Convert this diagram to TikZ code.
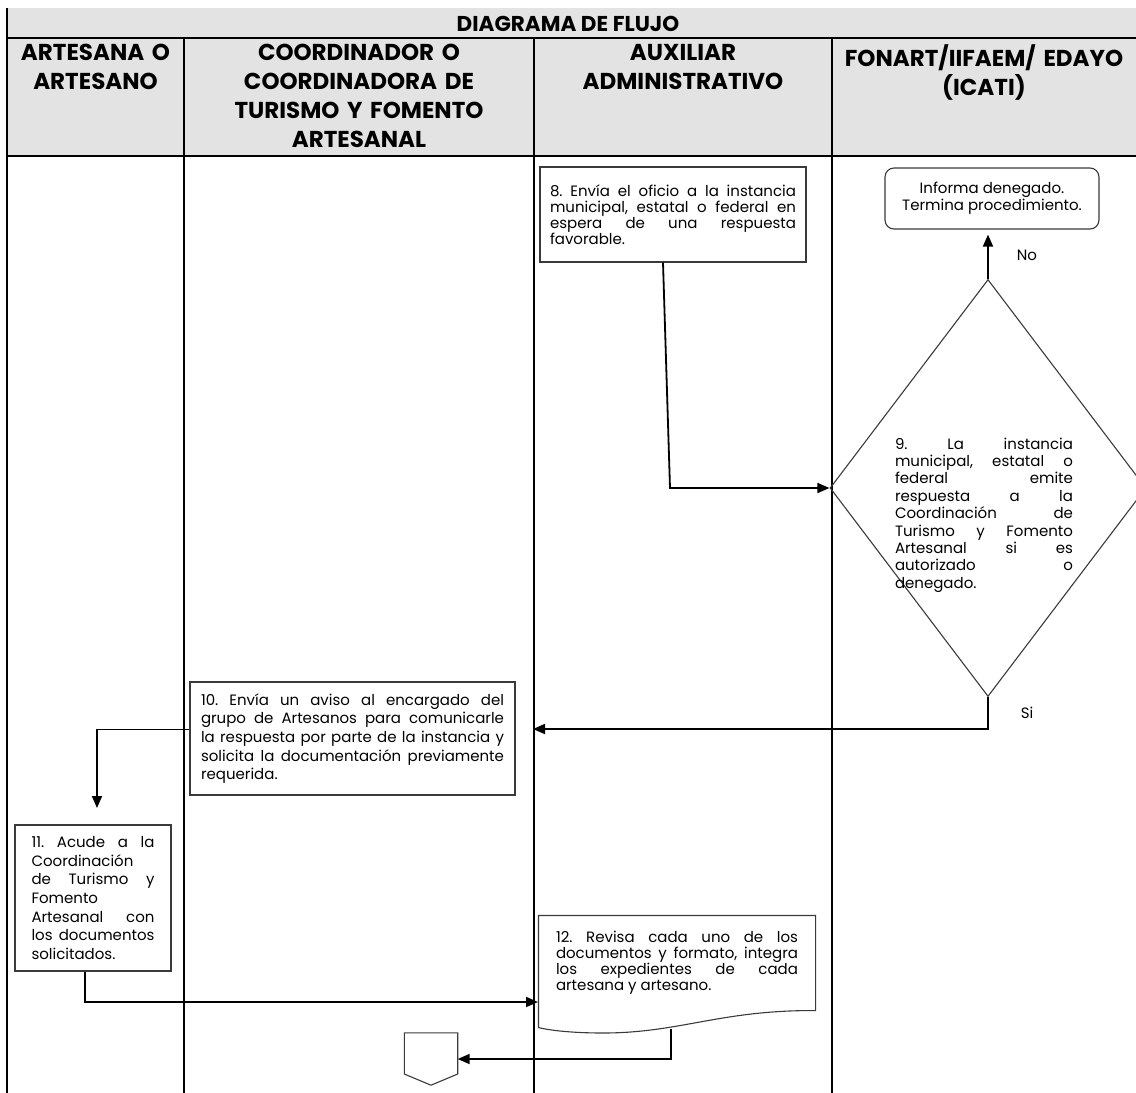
\documentclass[tikz,border=0pt]{standalone}
\usepackage{fontspec}
\setmainfont{Poppins}
\usetikzlibrary{arrows.meta, shapes.geometric, calc, positioning}
\definecolor{hdrGrey}{HTML}{E3E3E3}
\definecolor{boxLine}{HTML}{3A3A3A}
\newcommand{\lanefont}{\bfseries\fontsize{23}{29}\selectfont}
\newcommand{\titlefont}{\bfseries\fontsize{21.5}{29}\selectfont}
\newcommand{\steptight}{\frenchspacing\fontsize{15}{16}\selectfont}
\newcommand{\stepwide}{\frenchspacing\fontsize{15}{18.6}\selectfont}
\newcommand{\stepmid}{\frenchspacing\fontsize{15}{17.4}\selectfont}
\tikzset{
  % lane grid and boxes, sized in pixels of the sheet
  laneline/.style = {black, line width=1.3pt},
  lanehead/.style = {font=\lanefont, align=center, anchor=north, inner sep=0pt, text width=#1},
  procbox/.style  = {draw=boxLine, line width=1.1pt, fill=white, inner sep=0pt, align=justify},
  endbox/.style   = {procbox, rounded corners=9pt, align=center, font=\stepmid},
  decision/.style = {diamond, draw=boxLine, line width=1.1pt, inner sep=0pt},
  flow/.style     = {-{Triangle[length=12pt, width=10pt]}, line width=1.8pt, black},
  flowlbl/.style  = {font=\stepmid, inner sep=0pt},
}
\begin{document}
\begin{tikzpicture}[x=1pt, y=-1pt]
  \useasboundingbox (0,0) rectangle (1136,1093);
  \clip (0,0) rectangle (1136,1093);
  % header band
  \fill[hdrGrey] (7,8) rectangle (1136,156);
  \draw[laneline] (7,38) -- (1136,38);
  \draw[laneline] (7,156) -- (1136,156);
  \draw[laneline] (7,8) -- (7,1093);
  \foreach \x in {184,534,832}
    \draw[laneline] (\x,38) -- (\x,1093);
  \node[font=\titlefont, inner sep=0pt] (title) at (568,24) {DIAGRAMA DE FLUJO};
  \node[lanehead=176pt] (h1) at (95.5,44) {ARTESANA O\\ARTESANO};
  \node[lanehead=346pt] (h2) at (359,44) {COORDINADOR O\\COORDINADORA DE\\TURISMO Y FOMENTO\\ARTESANAL};
  \node[lanehead=296pt] (h3) at (683,44) {AUXILIAR\\ADMINISTRATIVO};
  \node[lanehead=300pt] (h4) at (984,44) {FONART/IIFAEM/ EDAYO\\(ICATI)};
  % steps
  \node[procbox, font=\steptight, minimum width=266pt, minimum height=95pt, text width=246pt]
    (s8) at (673,214.5) {8. Envía el oficio a la instancia\linebreak municipal, estatal o federal en\linebreak espera de una respuesta\linebreak favorable.};
  \node[endbox, minimum width=214pt, minimum height=61pt] (fin) at (992,198.5)
    {Informa denegado.\\Termina procedimiento.};
  \node[decision, minimum width=316pt, minimum height=417pt] (d9) at (988,488) {};
  \node[font=\stepmid, align=justify, text width=178pt, inner sep=0pt] (t9) at (984,515)
    {9. La instancia\linebreak municipal, estatal o\linebreak federal emite\linebreak respuesta a la\linebreak Coordinación de\linebreak Turismo y Fomento\linebreak Artesanal si es\linebreak autorizado o\linebreak denegado.};
  \node[procbox, font=\stepwide, minimum width=325pt, minimum height=113pt, text width=303pt]
    (s10) at (352.5,738.5) {10. Envía un aviso al encargado del\linebreak grupo de Artesanos para comunicarle\linebreak la respuesta por parte de la instancia y\linebreak solicita la documentación previamente\linebreak requerida.};
  \node[procbox, font=\stepwide, minimum width=156pt, minimum height=146pt, text width=123pt]
    (s11) at (93,898) {11. Acude a la\linebreak Coordinación\linebreak de Turismo y\linebreak Fomento\linebreak Artesanal con\linebreak los documentos\linebreak solicitados.};
  \node[procbox, draw=none, fill=none, font=\steptight, minimum width=276pt, minimum height=94pt, text width=242pt]
    (s12) at (677,963) {12. Revisa cada uno de los\linebreak documentos y formato, integra\linebreak los expedientes de cada\linebreak artesana y artesano.};
  \draw[boxLine, line width=1.1pt] (s12.north west) -- (s12.north east) -- (s12.south east)
    .. controls (720,1010) and (680,1033) .. (603,1033)
    .. controls (570,1033) and (548,1030) .. ($(s12.south west)+(0,17)$) -- cycle;
  % off-page connector
  \node[inner sep=0pt, minimum width=53pt, minimum height=52pt] (conn) at (431,1059) {};
  \draw[boxLine, line width=1.1pt] (conn.north west) -- (conn.north east) -- ($(conn.east)+(0,15)$)
    -- (conn.south) -- ($(conn.west)+(0,15)$) -- cycle;
  % connectors
  \coordinate (j8) at (670,488);
  \coordinate (e10) at (533,729);
  \coordinate (e11) at (97,808);
  \coordinate (e12) at (538,1002);
  \coordinate (s12b) at (671,1029);
  \draw[flow] ([xshift=-10pt]s8.south) -- (j8) -- (d9.west);
  \draw[flow, shorten >=5pt] (d9.north) -- (d9.north |- fin.south);
  \draw[flow] (d9.south) |- (e10);
  \draw[flow] ([yshift=9pt]s10.west) -| (e11);
  \draw[flow] ([xshift=-8pt]s11.south) |- (e12);
  \draw[flow] (s12b) |- (conn.east);
  \node[flowlbl] (lno) at (1027,255) {No};
  \node[flowlbl] (lsi) at (1027,713) {Si};
\end{tikzpicture}
\end{document}
